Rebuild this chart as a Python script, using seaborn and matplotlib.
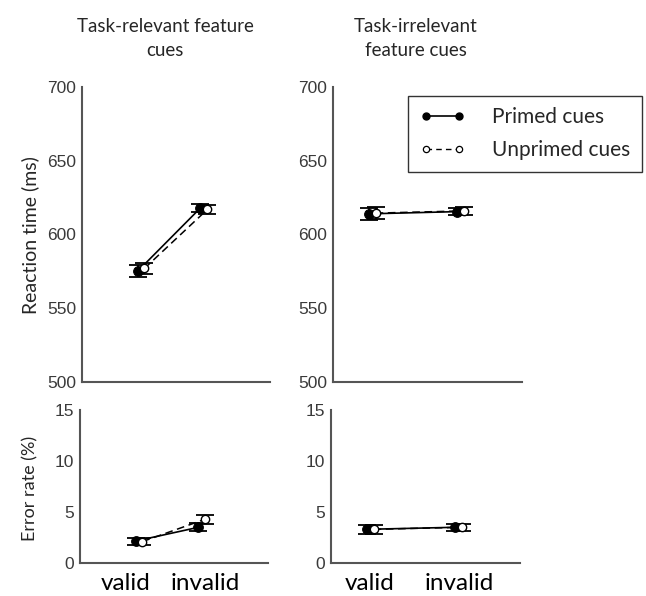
import matplotlib
matplotlib.use("Agg")
import matplotlib.pyplot as plt
import seaborn as sns
import pandas as pd
from matplotlib.lines import Line2D

sns.set_style("white")
plt.rcParams["font.family"] = ["Liberation Sans", "DejaVu Sans"]

# ---- data -------------------------------------------------------------
conditions = ["valid", "invalid"]
cue_types = ["Primed cues", "Unprimed cues"]

# Reaction time (ms), mean and error
rt_relevant_primed = [575, 618]
rt_relevant_unprimed = [577, 617]
rt_relevant_primed_err = [4, 3]
rt_relevant_unprimed_err = [4, 3]

rt_irrelevant_primed = [614, 615.5]
rt_irrelevant_unprimed = [614.5, 616]
rt_irrelevant_primed_err = [4, 2.5]
rt_irrelevant_unprimed_err = [4, 2.5]

# Error rate (%), mean and error
er_relevant_primed = [2.15, 3.5]
er_relevant_unprimed = [2.1, 4.3]
er_relevant_primed_err = [0.35, 0.4]
er_relevant_unprimed_err = [0.35, 0.45]

er_irrelevant_primed = [3.3, 3.5]
er_irrelevant_unprimed = [3.3, 3.5]
er_irrelevant_primed_err = [0.45, 0.35]
er_irrelevant_unprimed_err = [0.45, 0.35]

rt_ticks = [500, 550, 600, 650, 700]
er_ticks = [0, 5, 10, 15]

# ---- figure -----------------------------------------------------------
W, H = 646, 596
fig = plt.figure(figsize=(W / 100, H / 100), dpi=100)


def rect(x0, y0, x1, y1):
    return [x0 / W, 1 - y1 / H, (x1 - x0) / W, (y1 - y0) / H]


ax_rt_rel = fig.add_axes(rect(82, 87, 270, 382))
ax_rt_irr = fig.add_axes(rect(333, 87, 522, 382))
ax_er_rel = fig.add_axes(rect(80, 410, 268, 563))
ax_er_irr = fig.add_axes(rect(331, 410, 520, 563))

spine_col = "#555555"
tick_col = "#3a3a3a"
label_font = ["Lato", "DejaVu Sans"]


def draw_panel(ax, primed, unprimed, perr, uerr, xlim, dodge):
    base = [1, 2]
    xp = [b - dodge for b in base]
    xu = [b + dodge for b in base]
    df_p = pd.DataFrame({"x": xp, "y": primed, "cue": cue_types[0]})
    df_u = pd.DataFrame({"x": xu, "y": unprimed, "cue": cue_types[1]})
    # error bars
    ax.errorbar(df_u["x"], df_u["y"], yerr=uerr, fmt="none", ecolor="black",
                elinewidth=1.2, capsize=6.5, capthick=1.3, zorder=2)
    ax.errorbar(df_p["x"], df_p["y"], yerr=perr, fmt="none", ecolor="black",
                elinewidth=1.2, capsize=6.5, capthick=1.3, zorder=2)
    # mean lines with markers
    sns.lineplot(data=df_u, x="x", y="y", ax=ax, color="black", lw=1.1,
                 linestyle=(0, (5, 3)), marker="o", markersize=6,
                 markerfacecolor="white", markeredgecolor="black",
                 markeredgewidth=1.0, zorder=4)
    sns.lineplot(data=df_p, x="x", y="y", ax=ax, color="black", lw=1.2,
                 marker="o", markersize=7, markerfacecolor="black",
                 markeredgecolor="black", zorder=3)
    ax.set_xlim(*xlim)
    ax.set_xlabel("")
    ax.set_ylabel("")
    sns.despine(ax=ax)
    for s in ("left", "bottom"):
        ax.spines[s].set_color(spine_col)
        ax.spines[s].set_linewidth(1.5)
    ax.tick_params(axis="y", direction="in", length=3, width=1,
                   color=spine_col, labelcolor=tick_col, labelsize=12.5, pad=4)
    ax.tick_params(axis="x", length=0)


draw_panel(ax_rt_rel, rt_relevant_primed, rt_relevant_unprimed,
           rt_relevant_primed_err, rt_relevant_unprimed_err, (0.063, 3.05), 0.055)
draw_panel(ax_rt_irr, rt_irrelevant_primed, rt_irrelevant_unprimed,
           rt_irrelevant_primed_err, rt_irrelevant_unprimed_err, (0.557, 2.70), 0.04)
draw_panel(ax_er_rel, er_relevant_primed, er_relevant_unprimed,
           er_relevant_primed_err, er_relevant_unprimed_err, (0.063, 3.05), 0.055)
draw_panel(ax_er_irr, er_irrelevant_primed, er_irrelevant_unprimed,
           er_irrelevant_primed_err, er_irrelevant_unprimed_err, (0.557, 2.70), 0.04)

for ax in (ax_rt_rel, ax_rt_irr):
    ax.set_ylim(500, 700)
    ax.set_yticks(rt_ticks)
    ax.set_xticks([])
for ax in (ax_er_rel, ax_er_irr):
    ax.set_ylim(0, 15)
    ax.set_yticks(er_ticks)

ax_er_rel.set_xticks([0.79, 2.06])
ax_er_irr.set_xticks([1.0, 2.01])
for ax in (ax_er_rel, ax_er_irr):
    ax.set_xticklabels(conditions, fontsize=17.5, family=label_font, color="black")
    ax.tick_params(axis="x", pad=7)

fig.text(165 / W, 1 - 38 / H, "Task-relevant feature\ncues", ha="center",
         va="center", fontsize=13.5, family=label_font, linespacing=1.5)
fig.text(416 / W, 1 - 38 / H, "Task-irrelevant\nfeature cues", ha="center",
         va="center", fontsize=13.5, family=label_font, linespacing=1.5)

fig.text(30 / W, 1 - 235 / H, "Reaction time (ms)", rotation=90,
         ha="center", va="center", fontsize=14, family=label_font)
fig.text(30 / W, 1 - 488 / H, "Error rate (%)", rotation=90,
         ha="center", va="center", fontsize=13, family=label_font)

handles = [
    Line2D([], [], color="black", lw=1.2, marker="o", markersize=5,
           markerfacecolor="black"),
    Line2D([], [], color="black", lw=1.0, linestyle=(0, (4, 3)), marker="o",
           markersize=4.5, markerfacecolor="white", markeredgewidth=0.9),
]
leg = fig.legend(handles, cue_types, loc="upper left",
                 bbox_to_anchor=(408 / W, 1 - 96 / H), borderaxespad=0,
                 frameon=True, fancybox=False, edgecolor="black",
                 prop={"family": label_font, "size": 15}, numpoints=2,
                 handlelength=2.2, handletextpad=1.3, labelspacing=0.62,
                 borderpad=0.55)
leg.get_frame().set_linewidth(1.0)

fig.savefig("out.png", dpi=100)
